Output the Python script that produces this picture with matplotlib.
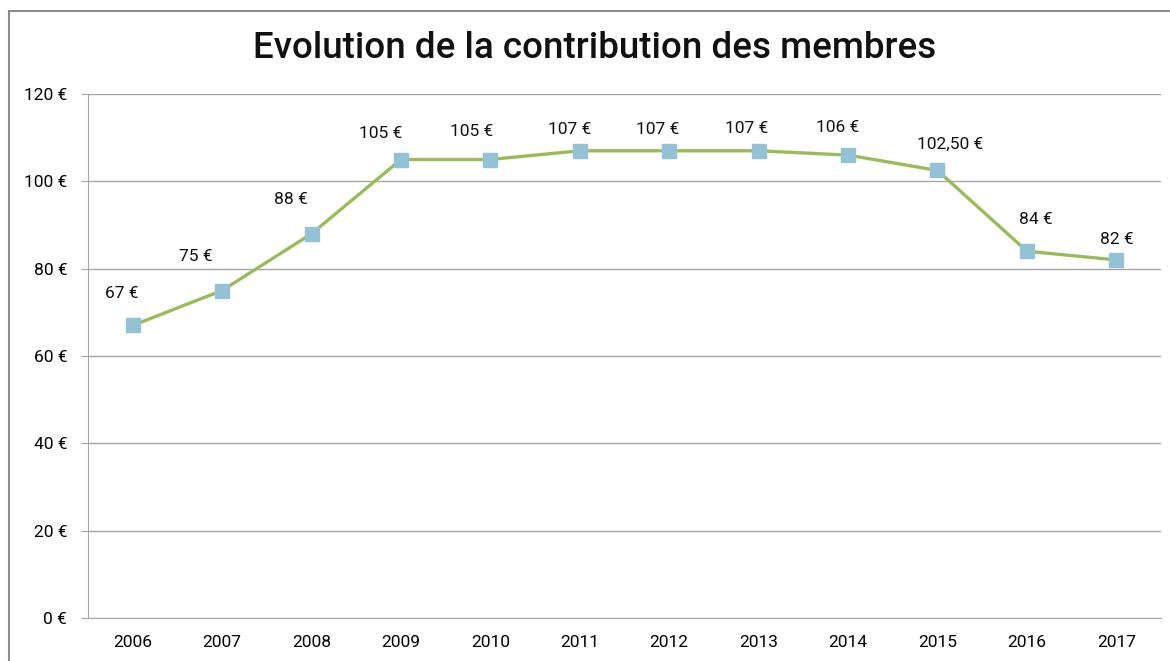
import matplotlib.pyplot as plt
from matplotlib.patches import Rectangle

years = ['2006', '2007', '2008', '2009', '2010', '2011',
         '2012', '2013', '2014', '2015', '2016', '2017']
contribution = [67, 75, 88, 105, 105, 107, 107, 107, 106, 102.5, 84, 82]
value_labels = ['67 €', '75 €', '88 €', '105 €', '105 €', '107 €',
                '107 €', '107 €', '106 €', '102,50 €', '84 €', '82 €']
y_ticks = [0, 20, 40, 60, 80, 100, 120]

# hand-placed label offsets (pixels), as in the original sheet
label_dx = [-11, -26, -21, -20, -19, -10, -12, -12, -10, 13, 9, 1]
label_dy = [32, 34, 34, 26, 28, 21, 21, 22, 28, 26, 32, 20]

plt.rcParams['font.family'] = ['Roboto', 'DejaVu Sans']
grid_col = '#a6a6a6'

fig = plt.figure(figsize=(11.7, 6.61), dpi=100)
ax = fig.add_axes([88 / 1170, 1 - 618 / 661, (1161 - 88) / 1170, (618 - 94) / 661])

x = list(range(len(years)))
ax.plot(x, contribution, color='#9bbb59', linewidth=2.4, zorder=3,
        marker='s', markersize=10.5, markerfacecolor='#93c2d6',
        markeredgecolor='#93c2d6')

for i, (v, lab) in enumerate(zip(contribution, value_labels)):
    ax.annotate(lab, (i, v), xytext=(label_dx[i], label_dy[i]),
                textcoords='offset pixels', ha='center', va='center',
                fontsize=12.5, color='#111111')

ax.set_xlim(-0.5, len(years) - 0.5)
ax.set_ylim(0, 120)
ax.set_xticks(x)
ax.set_xticklabels(years)
ax.set_yticks(y_ticks)
ax.set_yticklabels([f'{t} €' for t in y_ticks])
ax.grid(axis='y', color=grid_col, linewidth=1)
ax.set_axisbelow(True)

for s in ['top', 'right']:
    ax.spines[s].set_visible(False)
ax.spines['left'].set_color(grid_col)
ax.spines['bottom'].set_color(grid_col)
ax.tick_params(axis='y', length=5, color=grid_col, pad=10, labelsize=12.5)
ax.tick_params(axis='x', length=0, pad=12, labelsize=12.5)

fig.text(595 / 1170, 1 - 48 / 661, 'Evolution de la contribution des membres',
         ha='center', va='center', fontsize=26.5, fontweight='medium',
         color='#111111')

# outer chart border
fig.patches.append(Rectangle((9 / 1170, -0.1), 1.2, 1 - 11 / 661 + 0.1,
                             transform=fig.transFigure, fill=False,
                             edgecolor='#8c8c8c', linewidth=1.5))

fig.savefig('out.png', dpi=100)
